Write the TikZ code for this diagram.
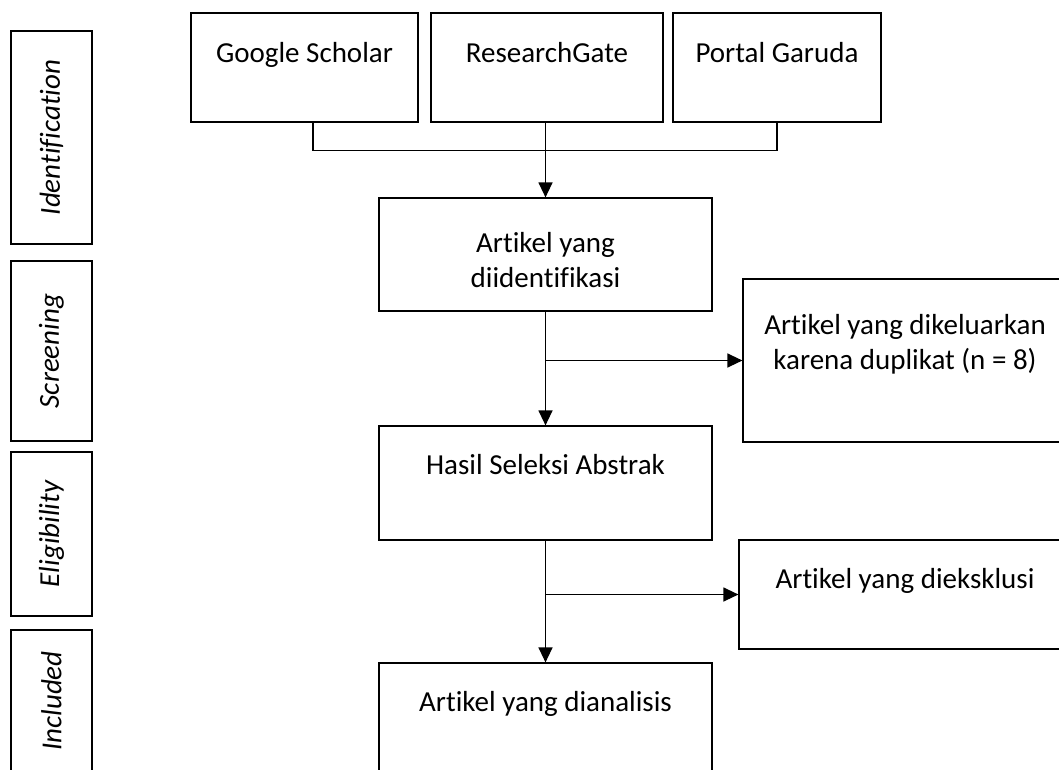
\documentclass[tikz,border=0pt]{standalone}
\usepackage{fontspec}
\setmainfont{Carlito}[Ligatures=NoCommon]
\usetikzlibrary{arrows.meta}
\tikzset{
  stageBox/.style={draw=black, line width=1.2pt, rotate=90, inner sep=0pt, minimum height=81pt, font=\fontsize{29pt}{35pt}\selectfont\itshape},
  flowBox/.style={draw=black, line width=1.2pt, inner sep=0pt, align=center, font=\fontsize{29pt}{35pt}\selectfont},
  flowLink/.style={-{Triangle[length=15pt, width=14pt]}, line width=1.3pt},
  mergeLine/.style={line width=1.3pt}
}

\begin{document}
\begin{tikzpicture}[x=1pt, y=-1pt]
  \useasboundingbox (0,0) rectangle (1059,769);
  \clip (0,0) rectangle (1059,769);

  % Tahap
  \node[stageBox, minimum width=213pt] (t1) at (51.5,137.5) {Identification};
  \node[stageBox, minimum width=180pt] (t2) at (51.5,351) {Screening};
  \node[stageBox, minimum width=164pt] (t3) at (51.5,534) {Eligibility};
  \node[stageBox, minimum width=142pt] (t4) at (51.5,701) {Included};

  % Sumber data
  \foreach \n/\cx/\w/\t in {src1/304.5/227/Google Scholar, src2/547/232/ResearchGate, src3/777/208/Portal Garuda}
    \node[flowBox, minimum width=\w pt, text height=49pt, text depth=60pt] (\n) at (\cx,67.5) {\t};

  % Artikel
  \node[flowBox, minimum width=333pt, text height=89pt, text depth=24pt] (idn) at (545.5,254.5) {Artikel yang\\diidentifikasi};
  \node[flowBox, minimum width=324pt, text height=90pt, text depth=73pt] (dup) at (905,360.5) {Artikel yang dikeluarkan\\karena duplikat (n = 8)};
  \node[flowBox, minimum width=333pt, text height=48pt, text depth=66pt] (abs) at (545.5,483) {Hasil Seleksi Abstrak};
  \node[flowBox, minimum width=332pt, text height=48pt, text depth=61pt] (exc) at (905,594.5) {Artikel yang dieksklusi};
  \node[flowBox, minimum width=333pt, text height=48pt, text depth=66pt] (inc) at (545.5,720) {Artikel yang dianalisis};

  % Alur
  \draw[mergeLine] ([xshift=8.5pt]src1.south) -- ++(0,28) -| (src3.south);
  \draw[flowLink] (idn.north |- src2.south) -- (idn.north);
  \draw[flowLink] (idn.south) -- (abs.north);
  \draw[flowLink] (idn.south |- dup.west) -- (dup.west);
  \draw[flowLink] (abs.south) -- (inc.north);
  \draw[flowLink] (abs.south |- exc.west) -- (exc.west);
\end{tikzpicture}
\end{document}
